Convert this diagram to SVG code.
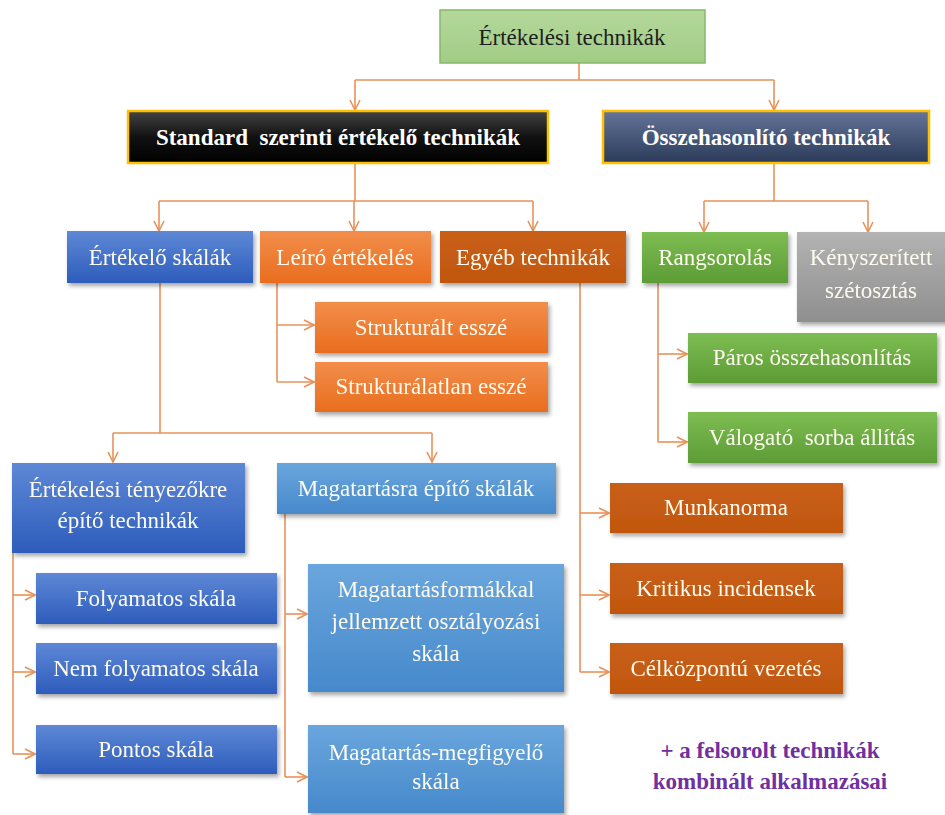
<svg xmlns="http://www.w3.org/2000/svg" width="945" height="815" viewBox="0 0 945 815">
  <defs>
    <style>
      .lbl { font-size: 23px; fill: #fdfbee; text-anchor: middle; dominant-baseline: central; white-space: pre; }
      .dark { fill: #1e1e1e; }
      .bold { font-weight: bold; fill: #ffffff; }
      .note { font-size: 23px; font-weight: bold; fill: #7030a0; text-anchor: middle; dominant-baseline: central; white-space: pre; }
      .conn { fill: none; stroke: #e8925a; stroke-width: 1.6; }
      .arr { marker-end: url(#chev); }
    </style>
    <marker id="chev" viewBox="0 0 12 12" refX="11" refY="6" markerWidth="12" markerHeight="12" markerUnits="userSpaceOnUse" orient="auto">
      <path d="M1,1 L11,6 L1,11" fill="none" stroke="#e8925a" stroke-width="1.6"/>
    </marker>
    <filter id="sh" x="-10%" y="-10%" width="125%" height="140%">
      <feDropShadow dx="2" dy="3" stdDeviation="2" flood-color="#000" flood-opacity="0.35"/>
    </filter>
    <linearGradient id="gRoot" x1="0" y1="0" x2="0" y2="1">
      <stop offset="0" stop-color="#b4d89b"/>
      <stop offset="1" stop-color="#a2cc86"/>
    </linearGradient>
    <linearGradient id="gBlack" x1="0" y1="0" x2="0" y2="1">
      <stop offset="0" stop-color="#444444"/>
      <stop offset="0.5" stop-color="#111111"/>
      <stop offset="1" stop-color="#000000"/>
    </linearGradient>
    <linearGradient id="gSlate" x1="0" y1="0" x2="0" y2="1">
      <stop offset="0" stop-color="#64759a"/>
      <stop offset="1" stop-color="#2b3a58"/>
    </linearGradient>
    <linearGradient id="gBlue" x1="0" y1="0" x2="0" y2="1">
      <stop offset="0" stop-color="#5e88d6"/>
      <stop offset="1" stop-color="#2d5cbb"/>
    </linearGradient>
    <linearGradient id="gLBlue" x1="0" y1="0" x2="0" y2="1">
      <stop offset="0" stop-color="#6aa6dd"/>
      <stop offset="1" stop-color="#4689cb"/>
    </linearGradient>
    <linearGradient id="gOrange" x1="0" y1="0" x2="0" y2="1">
      <stop offset="0" stop-color="#f28e4b"/>
      <stop offset="1" stop-color="#e96d1e"/>
    </linearGradient>
    <linearGradient id="gDOrange" x1="0" y1="0" x2="0" y2="1">
      <stop offset="0" stop-color="#c95f15"/>
      <stop offset="1" stop-color="#c05710"/>
    </linearGradient>
    <linearGradient id="gGreen" x1="0" y1="0" x2="0" y2="1">
      <stop offset="0" stop-color="#7dbd52"/>
      <stop offset="1" stop-color="#5d9c36"/>
    </linearGradient>
    <linearGradient id="gGray" x1="0" y1="0" x2="0" y2="1">
      <stop offset="0" stop-color="#b3b3b3"/>
      <stop offset="1" stop-color="#8f8f8f"/>
    </linearGradient>
  </defs>

  <rect width="945" height="815" fill="#ffffff"/>

  <!-- connectors -->
  <g id="connectors">
    <!-- root to the two main branches -->
    <path class="conn" d="M579,63 V80 M355,80 H774"/>
    <path class="conn arr" d="M355,80 V110"/>
    <path class="conn arr" d="M774,80 V110"/>
    <!-- standard techniques -->
    <path class="conn" d="M355,163 V201 M159,201 H533"/>
    <path class="conn arr" d="M159,201 V231"/>
    <path class="conn arr" d="M354,201 V231"/>
    <path class="conn arr" d="M533,201 V231"/>
    <!-- comparative techniques -->
    <path class="conn" d="M774,163 V201 M704,201 H868"/>
    <path class="conn arr" d="M704,201 V232"/>
    <path class="conn arr" d="M868,201 V232"/>
    <!-- descriptive evaluation -->
    <path class="conn" d="M277,283 V382"/>
    <path class="conn arr" d="M277,325 H314"/>
    <path class="conn arr" d="M277,382 H314"/>
    <!-- rating scales -->
    <path class="conn" d="M160,283 V433 M113,433 H432"/>
    <path class="conn arr" d="M113,433 V462"/>
    <path class="conn arr" d="M432,433 V462"/>
    <!-- factor-based techniques -->
    <path class="conn" d="M13,553 V754"/>
    <path class="conn arr" d="M13,595 H35"/>
    <path class="conn arr" d="M13,672 H35"/>
    <path class="conn arr" d="M13,754 H35"/>
    <!-- behaviour-based scales -->
    <path class="conn" d="M285,514 V777"/>
    <path class="conn arr" d="M285,614 H307"/>
    <path class="conn arr" d="M285,777 H307"/>
    <!-- other techniques -->
    <path class="conn" d="M580,283 V672"/>
    <path class="conn arr" d="M580,513 H609"/>
    <path class="conn arr" d="M580,595 H609"/>
    <path class="conn arr" d="M580,672 H609"/>
    <!-- ranking -->
    <path class="conn" d="M658,283 V442"/>
    <path class="conn arr" d="M658,354 H687"/>
    <path class="conn arr" d="M658,442 H687"/>
  </g>

  <!-- nodes -->
  <g id="root">
    <rect x="440" y="10" width="265" height="53" fill="url(#gRoot)" stroke="#86b867" stroke-width="1.5"/>
    <text class="lbl dark" x="572" y="37" font-family="Liberation Serif, serif">Értékelési technikák</text>
  </g>

  <g id="standard">
    <rect x="128" y="111" width="420" height="52" fill="url(#gBlack)" stroke="#ffc000" stroke-width="2.5"/>
    <text class="lbl bold" x="338" y="137" font-family="Liberation Serif, serif">Standard  szerinti értékelő technikák</text>
  </g>

  <g id="osszehasonlito">
    <rect x="603" y="111" width="326" height="52" fill="url(#gSlate)" stroke="#ffc000" stroke-width="2.5"/>
    <text class="lbl bold" x="766" y="137" font-family="Liberation Serif, serif">Összehasonlító technikák</text>
  </g>

  <g id="ertekelo-skalak" filter="url(#sh)">
    <rect x="67" y="231" width="186" height="52" fill="url(#gBlue)"/>
    <text class="lbl" x="160" y="257" font-family="Liberation Serif, serif">Értékelő skálák</text>
  </g>

  <g id="leiro-ertekeles" filter="url(#sh)">
    <rect x="260" y="231" width="171" height="52" fill="url(#gOrange)"/>
    <text class="lbl" x="345" y="257" font-family="Liberation Serif, serif">Leíró értékelés</text>
  </g>

  <g id="egyeb-technikak" filter="url(#sh)">
    <rect x="440" y="231" width="186" height="52" fill="url(#gDOrange)"/>
    <text class="lbl" x="533" y="257" font-family="Liberation Serif, serif">Egyéb technikák</text>
  </g>

  <g id="rangsorolas" filter="url(#sh)">
    <rect x="642" y="232" width="146" height="51" fill="url(#gGreen)"/>
    <text class="lbl" x="715" y="257" font-family="Liberation Serif, serif">Rangsorolás</text>
  </g>

  <g id="kenyszeritett" filter="url(#sh)">
    <rect x="797" y="232" width="160" height="90" fill="url(#gGray)"/>
    <text class="lbl" x="871" y="257" font-family="Liberation Serif, serif">Kényszerített</text>
    <text class="lbl" x="871" y="290" font-family="Liberation Serif, serif">szétosztás</text>
  </g>

  <g id="strukturalt" filter="url(#sh)">
    <rect x="315" y="302" width="233" height="51" fill="url(#gOrange)"/>
    <text class="lbl" x="431" y="327" font-family="Liberation Serif, serif">Strukturált esszé</text>
  </g>

  <g id="strukturalatlan" filter="url(#sh)">
    <rect x="315" y="362" width="233" height="50" fill="url(#gOrange)"/>
    <text class="lbl" x="431" y="386" font-family="Liberation Serif, serif">Strukturálatlan esszé</text>
  </g>

  <g id="paros" filter="url(#sh)">
    <rect x="688" y="333" width="249" height="50" fill="url(#gGreen)"/>
    <text class="lbl" x="812" y="357" font-family="Liberation Serif, serif">Páros összehasonlítás</text>
  </g>

  <g id="valogato" filter="url(#sh)">
    <rect x="688" y="412" width="249" height="51" fill="url(#gGreen)"/>
    <text class="lbl" x="812" y="437" font-family="Liberation Serif, serif">Válogató  sorba állítás</text>
  </g>

  <g id="tenyezokre" filter="url(#sh)">
    <rect x="12" y="463" width="233" height="90" fill="url(#gBlue)"/>
    <text class="lbl" x="128" y="489" font-family="Liberation Serif, serif">Értékelési tényezőkre</text>
    <text class="lbl" x="128" y="520" font-family="Liberation Serif, serif">építő technikák</text>
  </g>

  <g id="magatartasra" filter="url(#sh)">
    <rect x="277" y="463" width="279" height="51" fill="url(#gLBlue)"/>
    <text class="lbl" x="416" y="488" font-family="Liberation Serif, serif">Magatartásra építő skálák</text>
  </g>

  <g id="munkanorma" filter="url(#sh)">
    <rect x="610" y="483" width="233" height="50" fill="url(#gDOrange)"/>
    <text class="lbl" x="726" y="507" font-family="Liberation Serif, serif">Munkanorma</text>
  </g>

  <g id="folyamatos" filter="url(#sh)">
    <rect x="36" y="573" width="241" height="51" fill="url(#gBlue)"/>
    <text class="lbl" x="156" y="598" font-family="Liberation Serif, serif">Folyamatos skála</text>
  </g>

  <g id="kritikus" filter="url(#sh)">
    <rect x="610" y="563" width="233" height="51" fill="url(#gDOrange)"/>
    <text class="lbl" x="726" y="588" font-family="Liberation Serif, serif">Kritikus incidensek</text>
  </g>

  <g id="magatartasformakkal" filter="url(#sh)">
    <rect x="308" y="564" width="256" height="128" fill="url(#gLBlue)"/>
    <text class="lbl" x="436" y="589" font-family="Liberation Serif, serif">Magatartásformákkal</text>
    <text class="lbl" x="436" y="621" font-family="Liberation Serif, serif">jellemzett osztályozási</text>
    <text class="lbl" x="436" y="653" font-family="Liberation Serif, serif">skála</text>
  </g>

  <g id="nem-folyamatos" filter="url(#sh)">
    <rect x="36" y="643" width="241" height="51" fill="url(#gBlue)"/>
    <text class="lbl" x="156" y="668" font-family="Liberation Serif, serif">Nem folyamatos skála</text>
  </g>

  <g id="celkozpontu" filter="url(#sh)">
    <rect x="610" y="643" width="233" height="51" fill="url(#gDOrange)"/>
    <text class="lbl" x="726" y="668" font-family="Liberation Serif, serif">Célközpontú vezetés</text>
  </g>

  <g id="pontos" filter="url(#sh)">
    <rect x="36" y="725" width="241" height="49" fill="url(#gBlue)"/>
    <text class="lbl" x="156" y="749" font-family="Liberation Serif, serif">Pontos skála</text>
  </g>

  <g id="megfigyelo" filter="url(#sh)">
    <rect x="308" y="725" width="256" height="88" fill="url(#gLBlue)"/>
    <text class="lbl" x="436" y="752" font-family="Liberation Serif, serif">Magatartás-megfigyelő</text>
    <text class="lbl" x="436" y="781" font-family="Liberation Serif, serif">skála</text>
  </g>

  <g id="megjegyzes">
    <text class="note" x="770" y="750" font-family="Liberation Serif, serif">+ a felsorolt technikák</text>
    <text class="note" x="770" y="781" font-family="Liberation Serif, serif">kombinált alkalmazásai</text>
  </g>
</svg>
